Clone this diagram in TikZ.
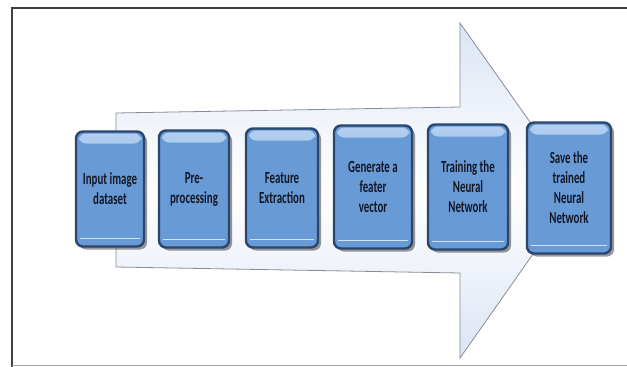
\documentclass[tikz,border=0pt]{standalone}
\usepackage{fontspec}
\newfontfamily\stagefont[FakeStretch=0.64]{Carlito}
\usetikzlibrary{calc,shadows}

\definecolor{stagefill}{RGB}{104,154,214}
\definecolor{stageedge}{RGB}{42,70,108}
\definecolor{stagelight}{RGB}{180,208,240}
\definecolor{stagetext}{RGB}{20,24,38}
\definecolor{arrowfill}{RGB}{220,228,244}
\definecolor{arrowedge}{RGB}{135,140,150}

\tikzset{
  stage/.style={draw=stageedge, line width=2.4pt, fill=stagefill,
    rounded corners=7pt, align=center, text=stagetext, inner sep=1pt,
    font=\stagefont\bfseries\fontsize{17}{20}\selectfont,
    drop shadow={shadow xshift=3pt, shadow yshift=-3pt, fill=black!80, opacity=0.5},
    path picture={
      % light band at the top, thin glint near the bottom
      \shade[top color=stagelight, bottom color=stagefill]
        ([xshift=3pt,yshift=-2pt]path picture bounding box.north west) rectangle
        ([xshift=-3pt,yshift=-12pt]path picture bounding box.north east);
      \draw[white!70!stagefill, line width=1.3pt]
        ([xshift=4pt,yshift=8pt]path picture bounding box.south west) --
        ([xshift=-4pt,yshift=8pt]path picture bounding box.south east);
    }},
  frameline/.style={line width=2pt, black!75}
}

\begin{document}
\begin{tikzpicture}[x=1pt, y=-1pt]
\useasboundingbox (0,0) rectangle (627,367);

% outer frame
\draw[frameline] (12,367) -- (12,8) -- (627,8);
\draw[black!35, line width=1pt] (12,365.5) -- (627,365.5);

% big background arrow
\shade[top color=arrowfill, bottom color=arrowfill, middle color=white,
       draw=arrowedge, line width=0.8pt]
  (116,113) -- (460,107) -- (460,23) -- (578,190) -- (460,358)
  -- (460,273) -- (116,267) -- cycle;

% the six stages
\node[stage, minimum width=68pt, minimum height=115pt] (input)   at (110,189) {Input image\\dataset};
\node[stage, minimum width=70pt, minimum height=117pt] (prep)    at (194,189) {Pre-\\processing};
\node[stage, minimum width=72pt, minimum height=119pt] (extract) at (282,188) {Feature\\Extraction};
\node[stage, minimum width=78pt, minimum height=123pt] (vector)  at (373,187) {Generate a\\feater\\vector};
\node[stage, minimum width=80pt, minimum height=125pt] (train)   at (468,187) {Training the\\Neural\\Network};
\node[stage, minimum width=84pt, minimum height=131pt] (save)    at (569,188) {Save the\\trained\\Neural\\Network};

\end{tikzpicture}
\end{document}
